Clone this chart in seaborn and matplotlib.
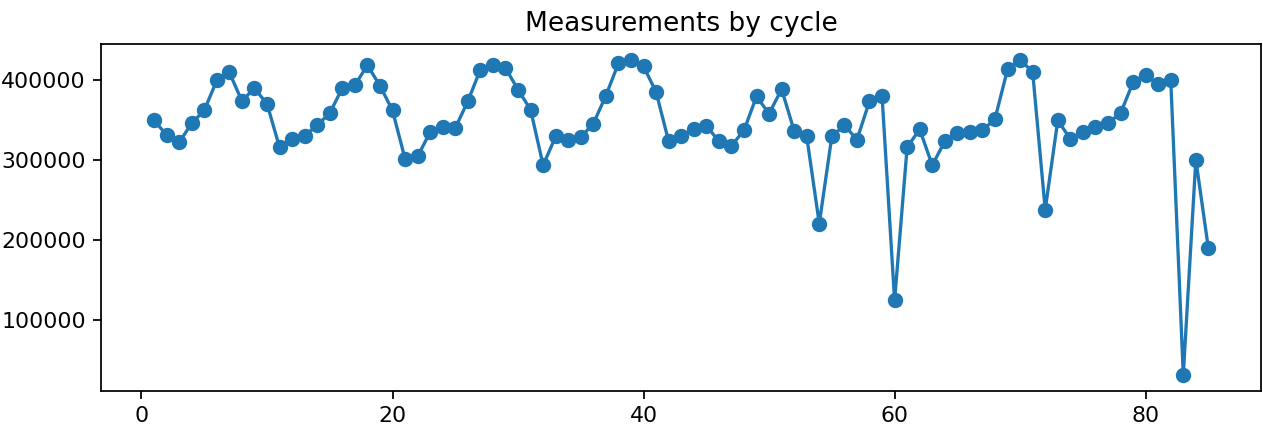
import matplotlib
matplotlib.use("Agg")
import matplotlib.pyplot as plt
import seaborn as sns
import pandas as pd

cycles = list(range(1, 86))
measurements = [
    350000, 332000, 322500, 346500, 362500, 400000, 410000, 374500, 390000, 371000,
    316500, 326500, 331000, 344000, 359000, 390500, 394000, 419000, 393500, 362500,
    302000, 305000, 335500, 341500, 340500, 374000, 413500, 419500, 415500, 388500,
    363500, 294000, 330000, 325000, 329000, 346000, 381000, 421500, 425000, 417500,
    385500, 324000, 330000, 339000, 343500, 324000, 318500, 337500, 380000, 358500,
    389000, 337000, 330000, 221000, 330000, 344000, 326000, 374000, 381000, 125000,
    316500, 339000, 294000, 324000, 334000, 335500, 337500, 352000, 414000, 426000,
    410500, 238500, 350000, 327000, 335000, 341500, 346500, 359000, 397500, 406500,
    395500, 401000, 32000, 301000, 190000,
]
title = "Measurements by cycle"

df = pd.DataFrame({"cycle": cycles, "value": measurements})

fig, ax = plt.subplots(figsize=(1263 / 158, 426 / 158), dpi=158)
fig.subplots_adjust(left=0.0802, right=0.9985, top=0.897, bottom=0.083)

sns.lineplot(
    data=df, x="cycle", y="value", ax=ax,
    color="#1f77b4", marker="o", markersize=6, linewidth=1.5,
    markeredgecolor="#1f77b4", markeredgewidth=1.0,
)

ax.set_title(title, fontsize=12)
ax.set_xlabel("")
ax.set_ylabel("")
ax.ticklabel_format(axis="y", style="plain", useOffset=False)

fig.savefig("out.png", dpi=158)
